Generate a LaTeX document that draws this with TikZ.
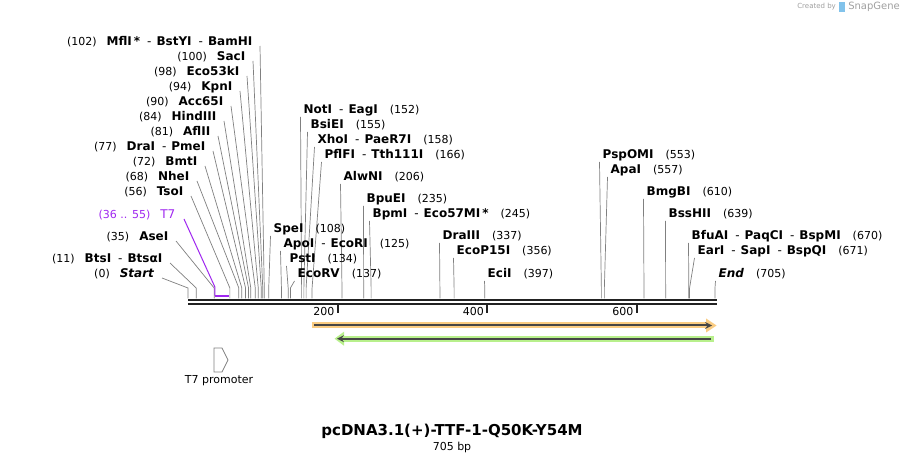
\documentclass[tikz,border=0pt]{standalone}
\usepackage{fontspec}
\setmainfont{DejaVu Sans}
\usepackage{tikz}
\usepackage{xcolor}
\usetikzlibrary{arrows,positioning}
\definecolor{sitegray}{RGB}{128,128,128}
\definecolor{backbone}{RGB}{34,34,34}
\definecolor{promo}{RGB}{160,40,240}
\definecolor{cdsorange}{RGB}{250,204,130}
\definecolor{cdsgreen}{RGB}{184,240,140}
\definecolor{featline}{RGB}{70,70,70}
\definecolor{logoblue}{RGB}{130,195,235}
\definecolor{logogray}{RGB}{160,160,160}
\newcommand{\enz}[1]{\textbf{#1}}
\newcommand{\enzsep}{\hspace{7pt}-\hspace{5pt}}
\newcommand{\bpnum}[1]{{\fontsize{11}{13}\selectfont(#1)}}
\tikzstyle{site} = [
    inner sep=1.5pt,
    font=\fontsize{12}{14}\selectfont
]
\tikzstyle{cutline} = [
    draw=sitegray,
    line width=0.7pt
]
\tikzstyle{cds} = [
    line width=6pt
]
\tikzstyle{cdsmid} = [
    line width=2pt,
    draw=featline
]

\begin{document}
\begin{tikzpicture}[x=1pt,y=-1pt]
            \fill[white] (0,0) rectangle (905,462);
            \useasboundingbox (0,0) rectangle (905,462);
            % backbone
            \coordinate (s0) at (188,300);
            \coordinate (s1) at (716.5,300);
            \draw[backbone, line width=2.2pt] (s0) -- (s1);
            \draw[backbone, line width=2.2pt] ([yshift=-4pt]s0) -- ([yshift=-4pt]s1);
            \foreach \t in {200,400,600} {
                \pgfmathsetmacro{\xt}{188+\t*0.7475}
                \coordinate (tk\t) at (\xt,305.5);
                \draw[backbone, line width=2pt] (tk\t) -- ++(0,7.5);
                \node[anchor=east, inner sep=1pt, font=\fontsize{11}{13}\selectfont]
                    (tl\t) at ([shift={(-2,6)}]tk\t) {\t};
            }
            % sites labelled on the right
            \foreach \bp/\lx/\ly/\txt [count=\i] in {
                152/302/110/{\enz{NotI}\enzsep\enz{EagI}\hspace{12pt}\bpnum{152}},
                155/309/125/{\enz{BsiEI}\hspace{12pt}\bpnum{155}},
                158/316/140/{\enz{XhoI}\enzsep\enz{PaeR7I}\hspace{12pt}\bpnum{158}},
                166/323/155/{\enz{PflFI}\enzsep\enz{Tth111I}\hspace{12pt}\bpnum{166}},
                206/342/177/{\enz{AlwNI}\hspace{12pt}\bpnum{206}},
                235/365/199/{\enz{BpuEI}\hspace{12pt}\bpnum{235}},
                245/371/214/{\enz{BpmI}\enzsep\enz{Eco57MI\,*}\hspace{12pt}\bpnum{245}},
                108/272/229/{\enz{SpeI}\hspace{12pt}\bpnum{108}},
                125/282/244/{\enz{ApoI}\enzsep\enz{EcoRI}\hspace{12pt}\bpnum{125}},
                134/288/259/{\enz{PstI}\hspace{12pt}\bpnum{134}},
                137/296/274/{\enz{EcoRV}\hspace{12pt}\bpnum{137}},
                337/441/236/{\enz{DraIII}\hspace{12pt}\bpnum{337}},
                356/455/251/{\enz{EcoP15I}\hspace{12pt}\bpnum{356}},
                397/486/274/{\enz{EciI}\hspace{12pt}\bpnum{397}},
                553/601/155/{\enz{PspOMI}\hspace{12pt}\bpnum{553}},
                557/609/170/{\enz{ApaI}\hspace{12pt}\bpnum{557}},
                610/645/192/{\enz{BmgBI}\hspace{12pt}\bpnum{610}},
                639/667/214/{\enz{BssHII}\hspace{12pt}\bpnum{639}},
                670/690/236/{\enz{BfuAI}\enzsep\enz{PaqCI}\enzsep\enz{BspMI}\hspace{12pt}\bpnum{670}},
                671/696/251/{\enz{EarI}\enzsep\enz{SapI}\enzsep\enz{BspQI}\hspace{12pt}\bpnum{671}},
                705/717/274/{\enz{\textit{End}}\hspace{12pt}\bpnum{705}}
            } {
                \pgfmathsetmacro{\xb}{188+\bp*0.7475}
                \node[site, anchor=west] (r\i) at (\lx,\ly) {\txt};
                \coordinate (rk\i) at (\xb,288);
                \coordinate (rb\i) at (\xb,298.5);
                \draw[cutline] ([shift={(-1.5,7)}]r\i.west) -- (rk\i) -- (rb\i);
            }
            % sites labelled on the left
            \foreach \bp/\rx/\ly/\txt [count=\i] in {
                102/254/42/{\bpnum{102}\hspace{10pt}\enz{MflI\,*}\enzsep\enz{BstYI}\enzsep\enz{BamHI}},
                100/247/57/{\bpnum{100}\hspace{10pt}\enz{SacI}},
                98/241/72/{\bpnum{98}\hspace{10pt}\enz{Eco53kI}},
                94/234/87/{\bpnum{94}\hspace{10pt}\enz{KpnI}},
                90/225/102/{\bpnum{90}\hspace{10pt}\enz{Acc65I}},
                84/218/117/{\bpnum{84}\hspace{10pt}\enz{HindIII}},
                81/212/132/{\bpnum{81}\hspace{10pt}\enz{AflII}},
                77/207/147/{\bpnum{77}\hspace{10pt}\enz{DraI}\enzsep\enz{PmeI}},
                72/199/162/{\bpnum{72}\hspace{10pt}\enz{BmtI}},
                68/191/177/{\bpnum{68}\hspace{10pt}\enz{NheI}},
                56/185/192/{\bpnum{56}\hspace{10pt}\enz{TsoI}},
                35/170/237/{\bpnum{35}\hspace{10pt}\enz{AseI}},
                11/164/259/{\bpnum{11}\hspace{10pt}\enz{BtsI}\enzsep\enz{BtsαI}},
                0/156/274/{\bpnum{0}\hspace{10pt}\enz{\textit{Start}}}
            } {
                \pgfmathsetmacro{\xb}{188+\bp*0.7475}
                \node[site, anchor=east] (l\i) at (\rx,\ly) {\txt};
                \coordinate (lk\i) at (\xb,288);
                \coordinate (lb\i) at (\xb,298.5);
                \draw[cutline] ([shift={(6,4)}]l\i.east) -- (lk\i) -- (lb\i);
            }
            % T7 feature
            \node[site, anchor=east, text=promo] (t7) at (177,215) {\bpnum{36 .. 55}\hspace{10pt}T7};
            \coordinate (t7k) at (214.9,287);
            \coordinate (t7a) at (214.9,295.7);
            \coordinate (t7b) at (229.1,295.7);
            \draw[promo, line width=1pt] ([shift={(7,4)}]t7.east) -- (t7k) -- (t7a);
            \draw[promo, line width=2.2pt] (t7a) -- (t7b);
            % features
            \draw[cds, cdsorange] (312,325.5) -- (709,325.5);
            \fill[cdsorange] (706,318.5) -- (716.5,325.5) -- (706,332.5) -- cycle;
            \draw[cdsmid, -stealth] (314,325.5) -- (712,325.5);
            \draw[cds, cdsgreen] (341,338.7) -- (713.5,338.7);
            \fill[cdsgreen] (344,331.7) -- (334.5,338.7) -- (344,345.7) -- cycle;
            \draw[cdsmid, -stealth] (711,338.7) -- (337,338.7);
            % T7 promoter glyph
            \draw[sitegray, line width=0.8pt, fill=white]
                (214,348) -- (222,348) -- (228,360) -- (222,372) -- (214,372) -- cycle;
            \node[font=\fontsize{11}{13}\selectfont] (t7p) at (219,381) {T7 promoter};
            % title
            \node[font=\fontsize{15}{18}\selectfont\bfseries] (title) at (452,431) {pcDNA3.1(+)-TTF-1-Q50K-Y54M};
            \node[font=\fontsize{11}{13}\selectfont, below=-3pt of title] (len) {705 bp};
            % logo
            \node[anchor=east, inner sep=0pt, text=logogray, font=\fontsize{10}{12}\selectfont] (sg) at (900,7) {SnapGene};
            \fill[logoblue] ([xshift=-9pt,yshift=5pt]sg.west) rectangle ([xshift=-3pt,yshift=-5pt]sg.west);
            \node[anchor=east, inner sep=0pt, text=logogray, font=\fontsize{7}{9}\selectfont] (cb) at ([xshift=-12pt]sg.west) {Created by};
        \end{tikzpicture}
\end{document}
